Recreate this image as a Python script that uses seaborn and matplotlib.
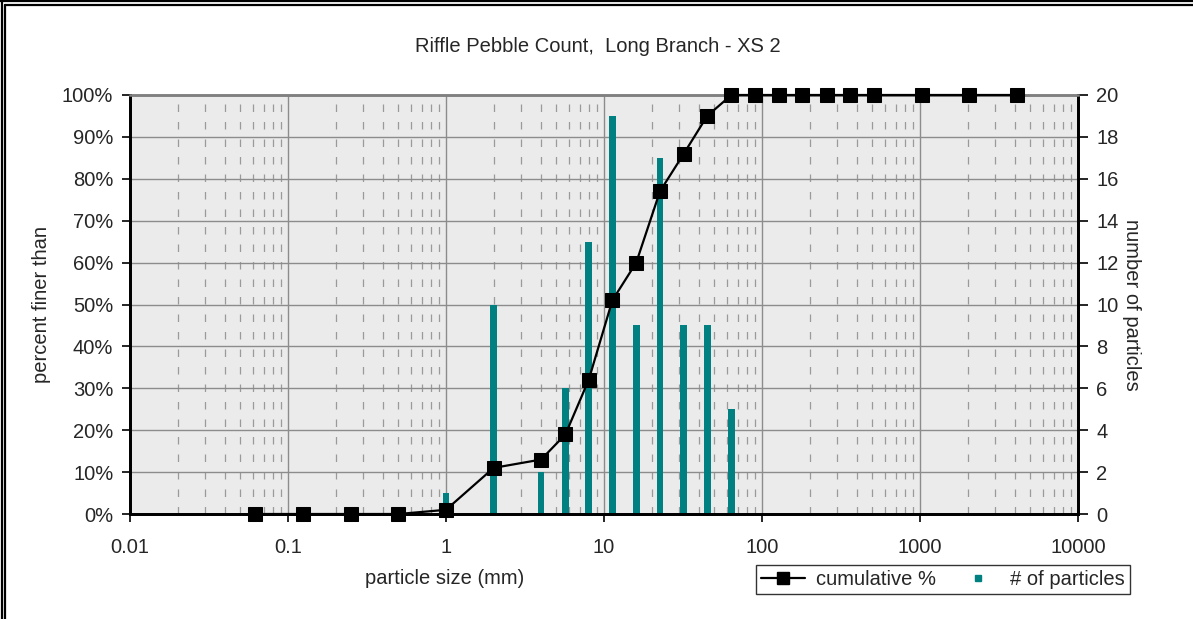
import matplotlib
matplotlib.use("Agg")
import matplotlib.pyplot as plt
import seaborn as sns
import numpy as np
import pandas as pd
from matplotlib.lines import Line2D
from matplotlib.ticker import PercentFormatter, LogLocator, FixedLocator, NullFormatter, FixedFormatter

# ---- data ----
sizes_mm = [0.062, 0.125, 0.25, 0.5, 1, 2, 4, 5.7, 8, 11.3, 16, 22.6, 32, 45, 64,
            90, 128, 180, 256, 362, 512, 1024, 2048, 4096]
cumulative_pct = [0, 0, 0, 0, 1, 11, 13, 19, 32, 51, 60, 77, 86, 95, 100,
                  100, 100, 100, 100, 100, 100, 100, 100, 100]
count_sizes_mm = [1, 2, 4, 5.7, 8, 11.3, 16, 22.6, 32, 45, 64]
particle_counts = [1, 10, 2, 6, 13, 19, 9, 17, 9, 9, 5]
x_ticks = [0.01, 0.1, 1, 10, 100, 1000, 10000]
x_tick_labels = ["0.01", "0.1", "1", "10", "100", "1000", "10000"]

title = "Riffle Pebble Count,  Long Branch - XS 2"

sns.set_style("white")
plt.rcParams['font.family'] = ['Liberation Sans', 'DejaVu Sans']
FS = 14.5

TEAL = "#008080"
BG = "#EBEBEB"

fig = plt.figure(figsize=(11.93, 6.19), dpi=100)
L, R, T, B = 130 / 1193, 1078 / 1193, 1 - 95 / 619, 1 - 514 / 619
ax2 = fig.add_axes([L, B, R - L, T - B])   # counts axis (background, grid, bars)
ax = fig.add_axes([L, B, R - L, T - B], sharex=ax2)  # percent axis (line, on top)

ax2.set_xscale("log")
ax2.set_ylim(0, 20)
ax2.set_facecolor(BG)
ax2.yaxis.tick_right()
ax2.yaxis.set_label_position("right")
ax2.set_yticks(np.arange(0, 21, 2))
ax2.set_axisbelow(True)

# bars
half = 0.021
lefts = [s / 10 ** half for s in count_sizes_mm]
widths = [s * (10 ** half - 10 ** -half) for s in count_sizes_mm]
ax2.bar(lefts, particle_counts, width=widths, align="edge", color=TEAL, edgecolor="none", zorder=2)

# percent axis on left (transparent, on top)
ax.patch.set_visible(False)
df = pd.DataFrame({"size": sizes_mm, "cum": cumulative_pct})
sns.lineplot(data=df, x="size", y="cum", ax=ax, color="black", linewidth=1.6,
             marker="s", markersize=9.5, markeredgecolor="black", markerfacecolor="black",
             clip_on=False, zorder=5)
ax.set_xscale("log")
ax.set_xlim(0.01, 10000)
ax.set_ylim(0, 100)
ax.set_yticks(np.arange(0, 101, 10))
ax.yaxis.set_major_formatter(PercentFormatter(xmax=100, decimals=0))
ax.set_xlabel("")
ax.set_ylabel("")
ax.grid(False)

# x ticks / grid (after scales are final)
ax2.xaxis.set_major_locator(FixedLocator(x_ticks))
ax2.xaxis.set_major_formatter(FixedFormatter(x_tick_labels))
ax2.xaxis.set_minor_locator(LogLocator(base=10, subs=np.arange(2, 10), numticks=20))
ax2.xaxis.set_minor_formatter(NullFormatter())
ax2.grid(True, which="major", axis="both", color="#8c8c8c", linewidth=1.0, linestyle="-")
ax2.grid(True, which="minor", axis="x", color="#9a9a9a", linewidth=0.9, linestyle=(0, (6, 8)))

ax.tick_params(axis="x", which="both", bottom=False, labelbottom=False, top=False, labeltop=False)
ax.tick_params(axis="y", which="major", direction="out", length=6, width=1.2,
               color="black", labelsize=FS, pad=6, left=True)

ax2.tick_params(axis="x", which="major", direction="out", length=6, width=1.2,
                color="black", labelsize=FS, pad=11, bottom=True, labelbottom=True)
ax2.tick_params(axis="x", which="minor", bottom=False)
ax2.tick_params(axis="y", which="major", direction="out", length=7, width=1.2,
                color="black", labelsize=FS, pad=6, right=True, left=False)

for a in (ax, ax2):
    a.spines["left"].set_color("black")
    a.spines["left"].set_linewidth(2)
    a.spines["bottom"].set_color("black")
    a.spines["bottom"].set_linewidth(2)
    a.spines["right"].set_color("black")
    a.spines["right"].set_linewidth(2)
    a.spines["top"].set_color("#808080")
    a.spines["top"].set_linewidth(1.8)

# texts
fig.text(598 / 1193, 1 - 46 / 619, title, ha="center", va="center", fontsize=FS)
fig.text(42 / 1193, 1 - 305 / 619, "percent finer than", rotation=90,
         ha="center", va="center", fontsize=FS)
fig.text(1131 / 1193, 1 - 305 / 619, "number of particles", rotation=270,
         ha="center", va="center", fontsize=FS)
fig.text(445 / 1193, 1 - 578 / 619, "particle size (mm)", ha="center", va="center", fontsize=FS)

# legend
handles = [
    Line2D([], [], color="black", linewidth=1.6, marker="s", markersize=9),
    Line2D([], [], color=TEAL, linestyle="none", marker="s", markersize=5),
]
leg = fig.legend(handles, ["cumulative %", "# of particles"], ncol=2,
                 loc="center", bbox_to_anchor=(943 / 1193, 1 - 579.5 / 619),
                 fontsize=FS, frameon=True, fancybox=False, edgecolor="black",
                 handlelength=2.2, columnspacing=1.0, borderpad=0.25, handletextpad=0.5)
leg.get_frame().set_linewidth(1.0)

# outer double border (left and top)
W, H = 1193, 619
for xx in (1.5, 5.5):
    fig.add_artist(Line2D([xx / W, xx / W], [0, 1 - (xx - 1) / H if xx > 2 else 1],
                          transform=fig.transFigure, color="black", linewidth=1.6))
for yy in (1.0, 5.0):
    fig.add_artist(Line2D([(yy + 0.5) / W if yy > 2 else 0, 1], [1 - yy / H, 1 - yy / H],
                          transform=fig.transFigure, color="black", linewidth=1.6))

fig.savefig("out.png", dpi=100)
